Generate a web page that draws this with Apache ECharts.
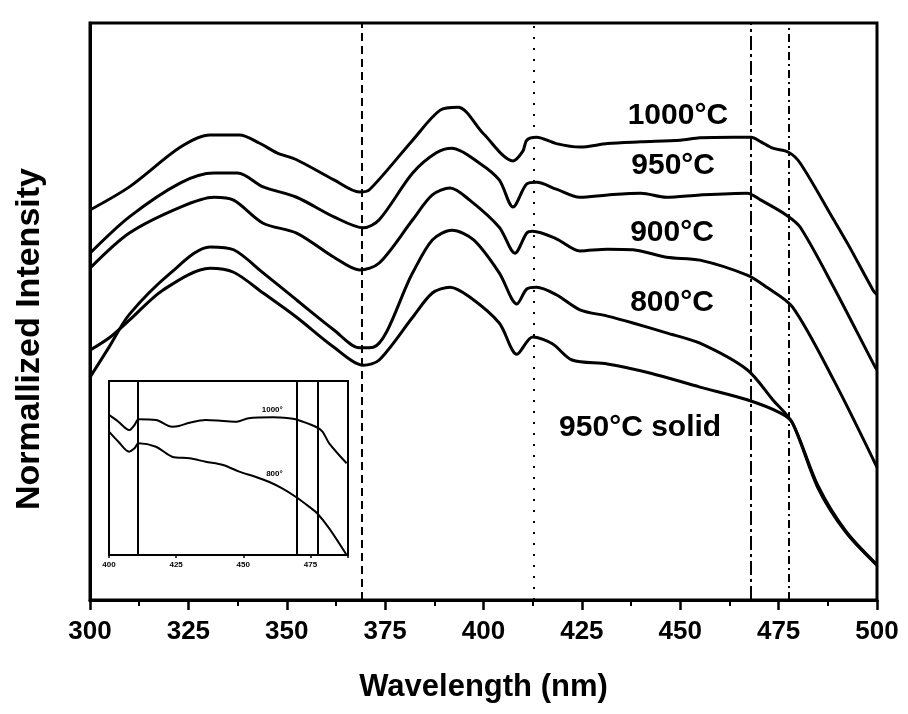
<!DOCTYPE html>
<html>
<head>
<meta charset="utf-8">
<title>Normallized Intensity</title>
<script src="https://cdn.jsdelivr.net/npm/echarts@6/dist/echarts.min.js"></script>
<style>
  html, body { margin: 0; padding: 0; background: #fff; }
  #main { width: 908px; height: 714px; }
</style>
</head>
<body>
<div id="main"></div>
<script>
// main spectra (x = wavelength nm, y = normalized intensity, arbitrary 0-100)
var wl1000 = [300, 310, 323, 330.5, 338, 343, 347.5, 352.5, 362, 368.5, 371, 382, 389, 393.5, 400, 407.5, 410, 411, 413.5, 418.5, 424.5, 431.5, 440, 450, 455, 463.5, 468, 470.5, 473.5, 477.5, 480.5, 489, 493, 499, 500];
var int1000 = [67.6, 71.6, 78.5, 80.6, 80.6, 79.2, 77.5, 76.3, 72.8, 70.7, 71.1, 79.7, 84.9, 85.4, 80.8, 76.1, 77.8, 79.7, 80.2, 79.1, 78.5, 79.1, 79.4, 79.7, 80.1, 80.2, 80.2, 79.4, 78.3, 77.6, 75.7, 65.9, 61.2, 53.7, 52.9];

var wl950 = [300, 310, 323, 331.5, 337.5, 344, 352.5, 362, 369.5, 373.5, 382, 388, 392, 399, 404, 407.5, 411, 413.5, 418.5, 424.5, 431.5, 440, 446.5, 455, 467, 470.5, 477, 480.5, 489, 499.5, 500];
var int950 = [60.1, 66.4, 72.3, 74.0, 74.0, 71.6, 69.8, 66.4, 64.5, 65.9, 74.0, 77.5, 78.3, 75.7, 72.8, 68.1, 72.1, 72.4, 71.2, 69.8, 70.2, 70.5, 69.8, 70.2, 70.5, 69.3, 66.7, 64.6, 54.2, 40.4, 39.9];

var wl900 = [300, 310, 323, 331.5, 336.5, 344, 352.5, 362, 368.5, 373.5, 382, 387, 391.5, 396.5, 404, 408, 411, 412.5, 418.5, 424.5, 431.5, 438, 446.5, 455, 467, 472, 478.5, 489, 500];
var int900 = [57.5, 63.6, 68.1, 69.8, 69.3, 65.3, 63.6, 59.4, 57.2, 58.4, 65.9, 70.2, 71.4, 69.3, 64.6, 60.1, 63.6, 63.9, 62.6, 60.5, 60.8, 60.7, 59.4, 58.9, 56.3, 54.2, 50.8, 38.1, 23.0];

var wl800 = [300, 305, 310, 320.5, 330.5, 336.5, 344, 352.5, 362, 368.5, 372, 382, 387, 392, 397.5, 404, 408.5, 411, 413.5, 418.5, 424.5, 431.5, 438, 446.5, 455, 467, 473.5, 478.5, 485, 492, 500];
var int800 = [38.6, 44.0, 49.5, 56.7, 61.2, 60.7, 56.7, 52.0, 46.8, 43.7, 43.8, 56.7, 62.4, 64.1, 62.4, 56.7, 51.3, 53.9, 54.2, 52.9, 50.3, 49.2, 48.0, 46.3, 44.5, 39.9, 34.7, 30.7, 19.8, 12.0, 6.1];

var wlSolid = [300, 305, 310, 318.5, 330.5, 336.5, 344, 352.5, 362, 369.5, 373.5, 382, 387, 391.5, 396.5, 404, 408.5, 412.5, 417.5, 422.5, 431.5, 442.5, 455, 467, 475.5, 478.5, 485, 492, 500];
var intSolid = [43.3, 45.5, 48.5, 53.7, 57.5, 56.8, 53.2, 49.0, 43.8, 40.7, 41.6, 49.0, 53.2, 54.2, 52.5, 48.0, 42.6, 45.6, 44.4, 41.6, 40.9, 39.3, 36.9, 34.7, 32.4, 30.7, 19.4, 11.8, 6.0];

var seriesNames = ['1000°C', '950°C', '900°C', '800°C', '950°C solid'];
var labelAt = [[449.4, 83.9], [448.2, 75.2], [447.9, 63.6], [447.9, 51.5], [439.8, 29.8]];

// vertical reference lines (nm)
var refLines = [369, 412.8, 468, 477.6];
var refDash = [[8, 5], [2, 9], [14, 4, 3, 4], [8, 4, 2, 4]];

// inset data
var insetWlTop = [400, 403.5, 407.5, 409.5, 411, 417.5, 423.5, 426, 430, 436, 442.5, 447.5, 452, 461, 467, 469.5, 477, 479.5, 482, 488.5];
var insetTop = [80.5, 76.6, 71.8, 74.7, 78.0, 77.6, 73.7, 74.1, 76.0, 77.6, 77.0, 76.6, 78.6, 79.1, 78.6, 78.0, 73.7, 70.9, 64.2, 52.7];
var insetWlLow = [400, 403.5, 407.5, 409.5, 411, 417.5, 423.5, 430, 436, 442.5, 448.5, 454.5, 459.5, 464.5, 469.5, 474.5, 477.5, 482, 488.5];
var insetLow = [70.9, 65.1, 59.4, 61.3, 64.2, 62.2, 56.5, 55.6, 53.6, 51.7, 47.9, 45.0, 42.1, 38.3, 33.5, 27.8, 24.0, 15.3, 0];
var insetNames = ['1000°', '800°'];
var insetLabelAt = [[460.8, 83.3], [461.6, 46.5]];
var insetLines = [410.8, 469.8, 477.6];

var FONT = '"Liberation Sans", Arial, sans-serif';

function pairs(xs, ys) {
  var out = [];
  for (var i = 0; i < xs.length; i++) {
    out.push([xs[i], ys[i]]);
  }
  return out;
}

function curve(name, xs, ys, idx, at, fontSize) {
  return {
    name: name,
    type: 'line',
    xAxisIndex: idx,
    yAxisIndex: idx,
    z: idx ? 10 : 2,
    data: pairs(xs, ys),
    showSymbol: false,
    smooth: 0.3,
    silent: true,
    lineStyle: { color: '#000', width: idx ? 2 : 3 },
    markPoint: {
      symbol: 'circle',
      symbolSize: 0,
      silent: true,
      label: {
        show: true,
        position: 'inside',
        color: '#000',
        fontFamily: FONT,
        fontWeight: 'bold',
        fontSize: fontSize,
        formatter: name
      },
      data: [{ coord: at }]
    }
  };
}

function vlines(vals, dashes, width) {
  return {
    silent: true,
    symbol: ['none', 'none'],
    label: { show: false },
    data: vals.map(function (v, i) {
      return {
        xAxis: v,
        lineStyle: { color: '#000', width: width, type: dashes ? dashes[i] : 'solid' }
      };
    })
  };
}

var series = [
  curve(seriesNames[0], wl1000, int1000, 0, labelAt[0], 30),
  curve(seriesNames[1], wl950, int950, 0, labelAt[1], 30),
  curve(seriesNames[2], wl900, int900, 0, labelAt[2], 30),
  curve(seriesNames[3], wl800, int800, 0, labelAt[3], 30),
  curve(seriesNames[4], wlSolid, intSolid, 0, labelAt[4], 30),
  curve(insetNames[0], insetWlTop, insetTop, 1, insetLabelAt[0], 8),
  curve(insetNames[1], insetWlLow, insetLow, 1, insetLabelAt[1], 8)
];
series[0].markLine = vlines(refLines, refDash, 2);
series[5].markLine = vlines(insetLines, null, 2);

var chart = echarts.init(document.getElementById('main'));
chart.setOption({
  animation: false,
  backgroundColor: '#fff',
  grid: [
    { left: 90, top: 23, width: 787, height: 577, show: true, borderColor: '#000', borderWidth: 3 },
    { left: 109, top: 381, width: 239, height: 174, show: true, borderColor: '#000', borderWidth: 2 }
  ],
  xAxis: [{
    type: 'value',
    gridIndex: 0,
    min: 300,
    max: 500,
    interval: 25,
    name: 'Wavelength (nm)',
    nameLocation: 'middle',
    nameGap: 72,
    nameTextStyle: { fontFamily: FONT, fontWeight: 'bold', fontSize: 31, color: '#000' },
    axisLine: { lineStyle: { color: '#000', width: 3 } },
    axisTick: { length: 10, lineStyle: { color: '#000', width: 2.5 } },
    minorTick: { show: true, splitNumber: 2, length: 6, lineStyle: { color: '#000', width: 2 } },
    splitLine: { show: false },
    axisLabel: { color: '#000', fontFamily: FONT, fontWeight: 'bold', fontSize: 26, margin: 19 }
  }, {
    type: 'value',
    gridIndex: 1,
    min: 400,
    max: 489,
    interval: 25,
    axisLine: { lineStyle: { color: '#000', width: 2 } },
    axisTick: { length: 3, lineStyle: { color: '#000', width: 1.5 } },
    splitLine: { show: false },
    axisLabel: {
      color: '#000', fontFamily: FONT, fontWeight: 'bold', fontSize: 8, margin: 6,
      formatter: function (v) { return v % 25 === 0 ? v : ''; }
    }
  }],
  yAxis: [{
    type: 'value',
    gridIndex: 0,
    min: 0,
    max: 100,
    axisLine: { show: true, lineStyle: { color: '#000', width: 3 } },
    axisTick: { show: false },
    axisLabel: { show: false },
    splitLine: { show: false }
  }, {
    type: 'value',
    gridIndex: 1,
    min: 0,
    max: 100,
    axisLine: { show: true, lineStyle: { color: '#000', width: 2 } },
    axisTick: { show: false },
    axisLabel: { show: false },
    splitLine: { show: false }
  }],
  graphic: [{
    type: 'text',
    x: 30,
    y: 339,
    rotation: Math.PI / 2,
    style: {
      text: 'Normallized Intensity',
      font: 'bold 34px ' + FONT,
      fill: '#000',
      textAlign: 'center',
      textVerticalAlign: 'middle',
      align: 'center',
      verticalAlign: 'middle'
    }
  }],
  series: series
});
</script>
</body>
</html>
